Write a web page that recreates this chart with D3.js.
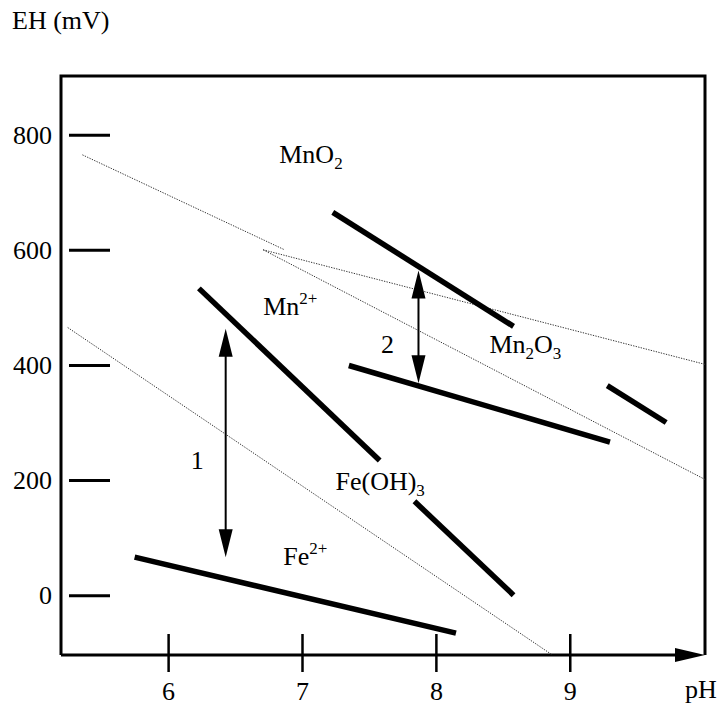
<!DOCTYPE html>
<html>
<head>
<meta charset="utf-8">
<script src="https://cdn.jsdelivr.net/npm/d3@7"></script>
<style>
  html, body { margin: 0; padding: 0; background: #fff; }
  svg text { font-family: "Liberation Serif", "Times New Roman", serif; fill: #000; }
</style>
</head>
<body>
<svg id="chart" width="720" height="711"></svg>
<script>
// ---- data ----
const yTicks = [0, 200, 400, 600, 800];
const xTicks = [6, 7, 8, 9];
const yTitle = "EH (mV)";
const xTitle = "pH";

// thick boundary segments: [pH start, pH end], [EH start, EH end]
const solidPH = [[7.23, 8.58], [7.35, 9.30], [9.28, 9.72], [6.23, 7.58], [7.84, 8.58], [5.75, 8.15]];
const solidEH = [[665, 467], [399, 266], [364, 300], [533, 234], [163, 0], [66, -66]];

// thin dotted reference lines
const dottedPH = [[5.36, 6.87], [6.71, 10.01], [6.71, 10.01], [5.25, 8.87]];
const dottedEH = [[765, 600], [600, 401], [600, 201], [465, -104]];

// double-headed arrows: pH, EH top, EH bottom
const arrowPH = [6.43, 7.87];
const arrowTop = [463, 564];
const arrowBottom = [66, 368];

// text labels: "_" marks subscript, "^" marks superscript for the next chunk
const labelText = ["MnO_2", "Mn^2+", "Mn_2O_3", "Fe(OH)_3", "Fe^2+", "1", "2"];
const labelPH = [6.83, 6.71, 8.40, 7.25, 6.86, 6.17, 7.59];
const labelEH = [750, 486, 420, 182, 52, 220, 420];

// ---- chart ----
const svg = d3.select("#chart");
const x = d3.scaleLinear().domain([5.2, 10.01]).range([61, 705]);
const y = d3.scaleLinear().domain([-104, 902]).range([655, 76]);

const FS = 26;
const SERIF = "'Liberation Serif', 'Times New Roman', serif";

// frame (left, top, right) and bottom axis line
svg.append("path")
  .attr("d", `M${x(5.2)},${y(-104)} L${x(5.2)},${y(902)} L${x(10.01)},${y(902)} L${x(10.01)},${y(-104)}`)
  .attr("fill", "none").attr("stroke", "#000").attr("stroke-width", 3);
svg.append("line")
  .attr("x1", x(5.2)).attr("x2", x(10.01) - 20)
  .attr("y1", y(-104)).attr("y2", y(-104))
  .attr("stroke", "#000").attr("stroke-width", 3);
svg.append("path")
  .attr("d", `M${x(10.01)},${y(-104)} L${x(10.01) - 30},${y(-104) - 7} L${x(10.01) - 30},${y(-104) + 7} Z`)
  .attr("fill", "#000");

// y axis: detached dashes inside frame
const yAxis = d3.axisLeft(y).tickValues(yTicks).tickFormat(d3.format("d")).tickSize(41).tickPadding(17);
const gy = svg.append("g").attr("transform", `translate(110,0)`).call(yAxis);
gy.attr("font-family", null);
gy.select(".domain").remove();
gy.selectAll(".tick line").attr("stroke", "#000").attr("stroke-width", 3);
gy.selectAll(".tick text").attr("font-size", FS).style("font-family", SERIF).attr("fill", "#000");

// x axis: crossing ticks
const xAxis = d3.axisBottom(x).tickValues(xTicks).tickFormat(d3.format("d")).tickSize(38).tickPadding(10);
const gx = svg.append("g").attr("transform", `translate(0,634)`).call(xAxis);
gx.attr("font-family", null);
gx.select(".domain").remove();
gx.selectAll(".tick line").attr("stroke", "#000").attr("stroke-width", 2.5);
gx.selectAll(".tick text").attr("font-size", FS).style("font-family", SERIF).attr("fill", "#000");

// axis titles
svg.append("text").attr("x", 12).attr("y", 29).attr("font-size", FS).text(yTitle);
svg.append("text").attr("x", 685).attr("y", 698).attr("font-size", FS).text(xTitle);

// dotted lines
dottedPH.forEach((p, i) => {
  svg.append("line")
    .attr("x1", x(p[0])).attr("y1", y(dottedEH[i][0]))
    .attr("x2", x(p[1])).attr("y2", y(dottedEH[i][1]))
    .attr("stroke", "#333").attr("stroke-width", 1)
    .attr("stroke-dasharray", "1.3,1.3");
});

// thick solid lines
solidPH.forEach((p, i) => {
  svg.append("line")
    .attr("x1", x(p[0])).attr("y1", y(solidEH[i][0]))
    .attr("x2", x(p[1])).attr("y2", y(solidEH[i][1]))
    .attr("stroke", "#000").attr("stroke-width", 5.5);
});

// double arrows
const headLen = 28, headHalf = 7;
arrowPH.forEach((p, i) => {
  const ax = x(p), yt = y(arrowTop[i]), yb = y(arrowBottom[i]);
  svg.append("line")
    .attr("x1", ax).attr("x2", ax)
    .attr("y1", yt + headLen - 2).attr("y2", yb - headLen + 2)
    .attr("stroke", "#000").attr("stroke-width", 2);
  svg.append("path")
    .attr("d", `M${ax},${yt} L${ax - headHalf},${yt + headLen} L${ax + headHalf},${yt + headLen} Z`)
    .attr("fill", "#000");
  svg.append("path")
    .attr("d", `M${ax},${yb} L${ax - headHalf},${yb - headLen} L${ax + headHalf},${yb - headLen} Z`)
    .attr("fill", "#000");
});

// labels with sub/superscripts
labelText.forEach((t, i) => {
  const txt = svg.append("text")
    .attr("x", x(labelPH[i])).attr("y", y(labelEH[i]))
    .attr("font-size", FS);
  // tokenize: normal text, _X (subscript digit), ^XX (superscript until end)
  const parts = [];
  let k = 0;
  while (k < t.length) {
    const c = t[k];
    if (c === "_") { parts.push({ s: t[k + 1], kind: "sub" }); k += 2; }
    else if (c === "^") { parts.push({ s: t.slice(k + 1), kind: "sup" }); k = t.length; }
    else {
      let j = k;
      while (j < t.length && t[j] !== "_" && t[j] !== "^") j++;
      parts.push({ s: t.slice(k, j), kind: "normal" }); k = j;
    }
  }
  let offset = 0;
  parts.forEach(pt => {
    const target = pt.kind === "sub" ? 6 : pt.kind === "sup" ? -11 : 0;
    const ts = txt.append("tspan").text(pt.s).attr("dy", target - offset);
    if (pt.kind !== "normal") ts.attr("font-size", 17);
    offset = target;
  });
});
</script>
</body>
</html>
